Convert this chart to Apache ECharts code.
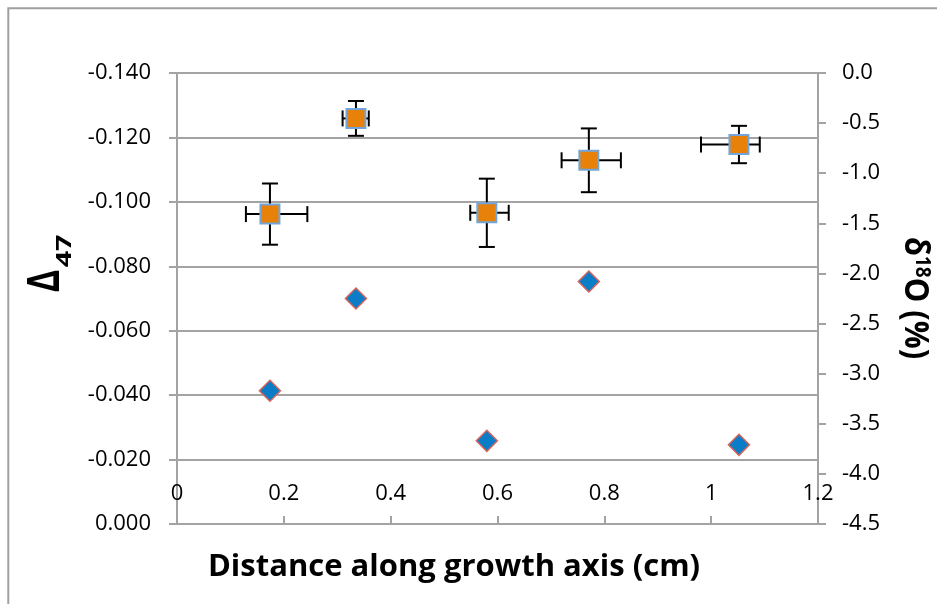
<!DOCTYPE html>
<html>
<head>
<meta charset="utf-8">
<script src="https://cdn.jsdelivr.net/npm/echarts@6/dist/echarts.min.js"></script>
<style>
  html, body { margin: 0; padding: 0; background: #fff; }
  #chart { width: 937px; height: 604px; }
</style>
</head>
<body>
<div id="chart"></div>
<script>
// Sample positions along the growth axis (cm)
const distance = [0.174, 0.335, 0.580, 0.771, 1.052];
// Clumped isotope values (left axis) and their uncertainties
const delta47 = [-0.0962, -0.1259, -0.0966, -0.1129, -0.1178];
const delta47Err = [0.0095, 0.0054, 0.0106, 0.0099, 0.0058];
// Horizontal uncertainty of each sample position (minus / plus)
const distErrMinus = [0.045, 0.025, 0.031, 0.051, 0.071];
const distErrPlus = [0.070, 0.024, 0.041, 0.060, 0.039];
// Oxygen isotope values (right axis)
const delta18O = [-3.17, -2.25, -3.67, -2.08, -3.71];

// Axis ranges: [min, max, interval]
const xRange = [0, 1.2, 0.2];
const d47Range = [-0.14, 0, 0.02];
const d18ORange = [-4.5, 0, 0.5];

const axisGray = '#a3a3a3';
const labelFont = '"Open Sans", Lato, sans-serif';

const chart = echarts.init(document.getElementById('chart'), null, { renderer: 'canvas' });

function renderErrorBars(params, api) {
  const x = api.value(0), y = api.value(1), ey = api.value(2);
  const exm = api.value(3), exp = api.value(4);
  const c = api.coord([x, y]);
  const top = api.coord([x, y - ey]);
  const bot = api.coord([x, y + ey]);
  const left = api.coord([x - exm, y]);
  const right = api.coord([x + exp, y]);
  const cap = 8;
  const style = { stroke: '#000', lineWidth: 2 };
  const line = (x1, y1, x2, y2) => ({ type: 'line', shape: { x1, y1, x2, y2 }, style });
  return {
    type: 'group',
    children: [
      line(c[0], top[1], c[0], bot[1]),
      line(c[0] - cap, top[1], c[0] + cap, top[1]),
      line(c[0] - cap, bot[1], c[0] + cap, bot[1]),
      line(left[0], c[1], right[0], c[1]),
      line(left[0], c[1] - cap, left[0], c[1] + cap),
      line(right[0], c[1] - cap, right[0], c[1] + cap)
    ]
  };
}

const errData = distance.map((d, i) => [d, delta47[i], delta47Err[i], distErrMinus[i], distErrPlus[i]]);

chart.setOption({
  animation: false,
  backgroundColor: '#fff',
  grid: { left: 177, right: 119, top: 73, bottom: 80 },
  xAxis: {
    type: 'value',
    min: xRange[0], max: xRange[1], interval: xRange[2],
    axisLine: { onZero: false, lineStyle: { color: axisGray, width: 2 } },
    axisTick: { inside: true, length: 8, lineStyle: { color: axisGray, width: 2 } },
    axisLabel: { inside: true, margin: 19, color: '#000', fontFamily: labelFont, fontSize: 22 },
    splitLine: { show: false }
  },
  yAxis: [
    {
      type: 'value',
      position: 'left',
      inverse: true,
      min: d47Range[0], max: d47Range[1], interval: d47Range[2],
      axisLine: { show: true, lineStyle: { color: axisGray, width: 2 } },
      axisTick: { show: true, length: 8, lineStyle: { color: axisGray, width: 2 } },
      axisLabel: { margin: 26, color: '#000', fontFamily: labelFont, fontSize: 22,
        padding: [6, 0, 0, 0], formatter: v => v.toFixed(3) },
      splitLine: { show: true, lineStyle: { color: axisGray, width: 2 } }
    },
    {
      type: 'value',
      position: 'right',
      min: d18ORange[0], max: d18ORange[1], interval: d18ORange[2],
      axisLine: { show: true, lineStyle: { color: axisGray, width: 2 } },
      axisTick: { show: true, length: 8, lineStyle: { color: axisGray, width: 2 } },
      axisLabel: { margin: 24, color: '#000', fontFamily: labelFont, fontSize: 22,
        padding: [6, 0, 0, 0], formatter: v => v.toFixed(1) },
      splitLine: { show: false }
    }
  ],
  series: [
    {
      name: 'Δ47 error',
      type: 'custom',
      xAxisIndex: 0, yAxisIndex: 0,
      renderItem: renderErrorBars,
      encode: { x: 0, y: 1 },
      data: errData,
      z: 2,
      silent: true
    },
    {
      name: 'Δ47',
      type: 'scatter',
      xAxisIndex: 0, yAxisIndex: 0,
      symbol: 'rect',
      symbolSize: 19,
      itemStyle: { color: '#e8810a', borderColor: '#72a6da', borderWidth: 2, opacity: 1 },
      data: distance.map((d, i) => [d, delta47[i]]),
      z: 3,
      silent: true
    },
    {
      name: 'δ18O',
      type: 'scatter',
      xAxisIndex: 0, yAxisIndex: 1,
      symbol: 'diamond',
      symbolSize: 21,
      itemStyle: { color: '#0b7dc6', borderColor: '#d5635b', borderWidth: 1.5, opacity: 1 },
      data: distance.map((d, i) => [d, delta18O[i]]),
      z: 3,
      silent: true
    }
  ],
  graphic: [
    {
      type: 'rect',
      shape: { x: 8.3, y: 8.3, width: 1000, height: 1000 },
      style: { fill: 'none', stroke: '#a0a0a0', lineWidth: 2 },
      silent: true
    },
    {
      type: 'text',
      x: 454, y: 567,
      style: {
        text: 'Distance along growth axis (cm)',
        fontFamily: '"Open Sans", sans-serif', fontWeight: 'bold', fontSize: 31,
        fill: '#000', align: 'center', verticalAlign: 'middle'
      }
    },
    {
      type: 'text',
      x: 46, y: 281, rotation: Math.PI / 2, scaleY: 1.3,
      style: {
        text: 'Δ', fontFamily: '"Open Sans", sans-serif', fontWeight: 'bold', fontSize: 34,
        fill: '#000', align: 'center', verticalAlign: 'middle'
      }
    },
    {
      type: 'text',
      x: 65, y: 251, rotation: Math.PI / 2, scaleX: 1.3,
      style: {
        text: '47', fontFamily: '"Open Sans", sans-serif', fontWeight: 'bold', fontSize: 22,
        fill: '#000', align: 'center', verticalAlign: 'middle'
      }
    },
    {
      type: 'text',
      x: 915, y: 298, rotation: -Math.PI / 2, scaleY: 1.1,
      style: {
        text: '{a|δ}{b|18}{a|O (%)}',
        fill: '#000', align: 'center', verticalAlign: 'middle',
        rich: {
          a: { fontFamily: '"Open Sans", sans-serif', fontWeight: 'bold', fontSize: 31, fill: '#000' },
          b: { fontFamily: '"Open Sans", sans-serif', fontWeight: 'bold', fontSize: 19, fill: '#000', verticalAlign: 'top' }
        }
      }
    }
  ]
});
</script>
</body>
</html>
